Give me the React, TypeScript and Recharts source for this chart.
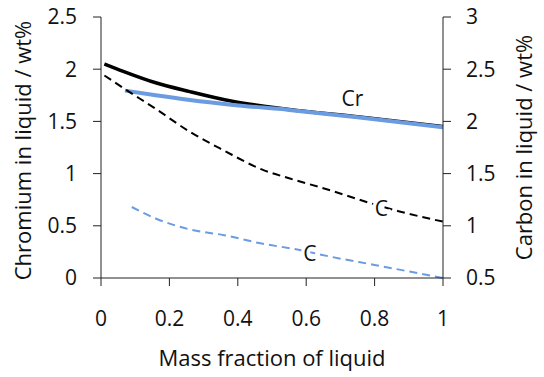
import { Label, Line, LineChart, ReferenceDot, XAxis, YAxis } from "recharts";

// Cr (left axis, wt%)
const crSolidX = [0.01, 0.065, 0.16, 0.26, 0.38, 0.55, 0.75, 1.0];
const crSolid = [2.05, 1.98, 1.87, 1.785, 1.695, 1.615, 1.545, 1.45];
const crBlueX = [0.07, 0.16, 0.26, 0.38, 0.55, 0.75, 1.0];
const crBlue = [1.795, 1.75, 1.705, 1.66, 1.61, 1.54, 1.445];

// C (right axis, wt%)
const cBlackX = [0.01, 0.065, 0.16, 0.26, 0.36, 0.47, 0.55, 0.65, 0.79, 0.87, 1.0];
const cBlack = [2.44, 2.32, 2.12, 1.9, 1.72, 1.54, 1.455, 1.36, 1.215, 1.14, 1.04];
const cBlueX = [0.09, 0.16, 0.26, 0.36, 0.47, 0.57, 0.67, 0.8, 1.0];
const cBlue = [1.18, 1.07, 0.965, 0.91, 0.83, 0.775, 0.705, 0.625, 0.5];

const xTicks = [0, 0.2, 0.4, 0.6, 0.8, 1];
const leftTicks = [0, 0.5, 1, 1.5, 2, 2.5];
const rightTicks = [0.5, 1, 1.5, 2, 2.5, 3];

const toRows = (xs: number[], ys: number[]) => xs.map((x, i) => ({ x, y: ys[i] }));

const FONT = "'Open Sans', sans-serif";
const BLUE = "#6b9be0";
const tickStyle = { fontSize: 21, fill: "#111", fontFamily: FONT };
const axisLine = { stroke: "#222" };

const haloLabel = (text: string) => (
  <Label
    value={text}
    position="center"
    fontSize={21}
    fill="#111"
    fontFamily={FONT}
    stroke="#fff"
    strokeWidth={7}
    paintOrder="stroke"
  />
);

export default function App() {
  return (
    <div style={{ position: "absolute", left: 0, top: 0, background: "#fff" }}>
      <LineChart width={544} height={377} margin={{ top: 17, right: 0, bottom: 0, left: 0 }}>
        <XAxis
          dataKey="x"
          type="number"
          domain={[0, 1]}
          ticks={xTicks}
          tick={tickStyle}
          tickSize={8}
          tickMargin={25}
          axisLine={axisLine}
          tickLine={axisLine}
          height={99}
          allowDuplicatedCategory={false}
        >
          <Label value="Mass fraction of liquid" position="insideBottom" offset={11} fontSize={22} fill="#111" fontFamily={FONT} />
        </XAxis>
        <YAxis
          yAxisId="left"
          domain={[0, 2.5]}
          ticks={leftTicks}
          tick={tickStyle}
          tickSize={8}
          tickMargin={16}
          axisLine={axisLine}
          tickLine={axisLine}
          width={101}
        >
          <Label value="Chromium in liquid / wt%" angle={-90} position="center" dx={-27} dy={3} fontSize={22} fill="#111" fontFamily={FONT} />
        </YAxis>
        <YAxis
          yAxisId="right"
          orientation="right"
          domain={[0.5, 3]}
          ticks={rightTicks}
          tick={tickStyle}
          tickSize={8}
          tickMargin={15}
          axisLine={axisLine}
          tickLine={axisLine}
          width={101}
        >
          <Label value="Carbon in liquid / wt%" angle={-90} position="center" dx={31} fontSize={22} fill="#111" fontFamily={FONT} />
        </YAxis>

        <Line
          yAxisId="left"
          data={toRows(crSolidX, crSolid)}
          dataKey="y"
          type="monotone"
          stroke="#000"
          strokeWidth={3.5}
          dot={false}
          isAnimationActive={false}
        />
        <Line
          yAxisId="left"
          data={toRows(crBlueX, crBlue)}
          dataKey="y"
          type="monotone"
          stroke={BLUE}
          strokeWidth={4}
          dot={false}
          isAnimationActive={false}
        />
        <Line
          yAxisId="right"
          data={toRows(cBlackX, cBlack)}
          dataKey="y"
          type="monotone"
          stroke="#000"
          strokeWidth={2}
          strokeDasharray="8 5"
          dot={false}
          isAnimationActive={false}
        />
        <Line
          yAxisId="right"
          data={toRows(cBlueX, cBlue)}
          dataKey="y"
          type="monotone"
          stroke={BLUE}
          strokeWidth={2}
          strokeDasharray="8 5"
          dot={false}
          isAnimationActive={false}
        />

        <ReferenceDot yAxisId="left" x={0.735} y={1.72} r={0} stroke="none">
          {haloLabel("Cr")}
        </ReferenceDot>
        <ReferenceDot yAxisId="right" x={0.82} y={1.17} r={0} stroke="none">
          {haloLabel("C")}
        </ReferenceDot>
        <ReferenceDot yAxisId="right" x={0.611} y={0.73} r={0} stroke="none">
          {haloLabel("C")}
        </ReferenceDot>
      </LineChart>
    </div>
  );
}
